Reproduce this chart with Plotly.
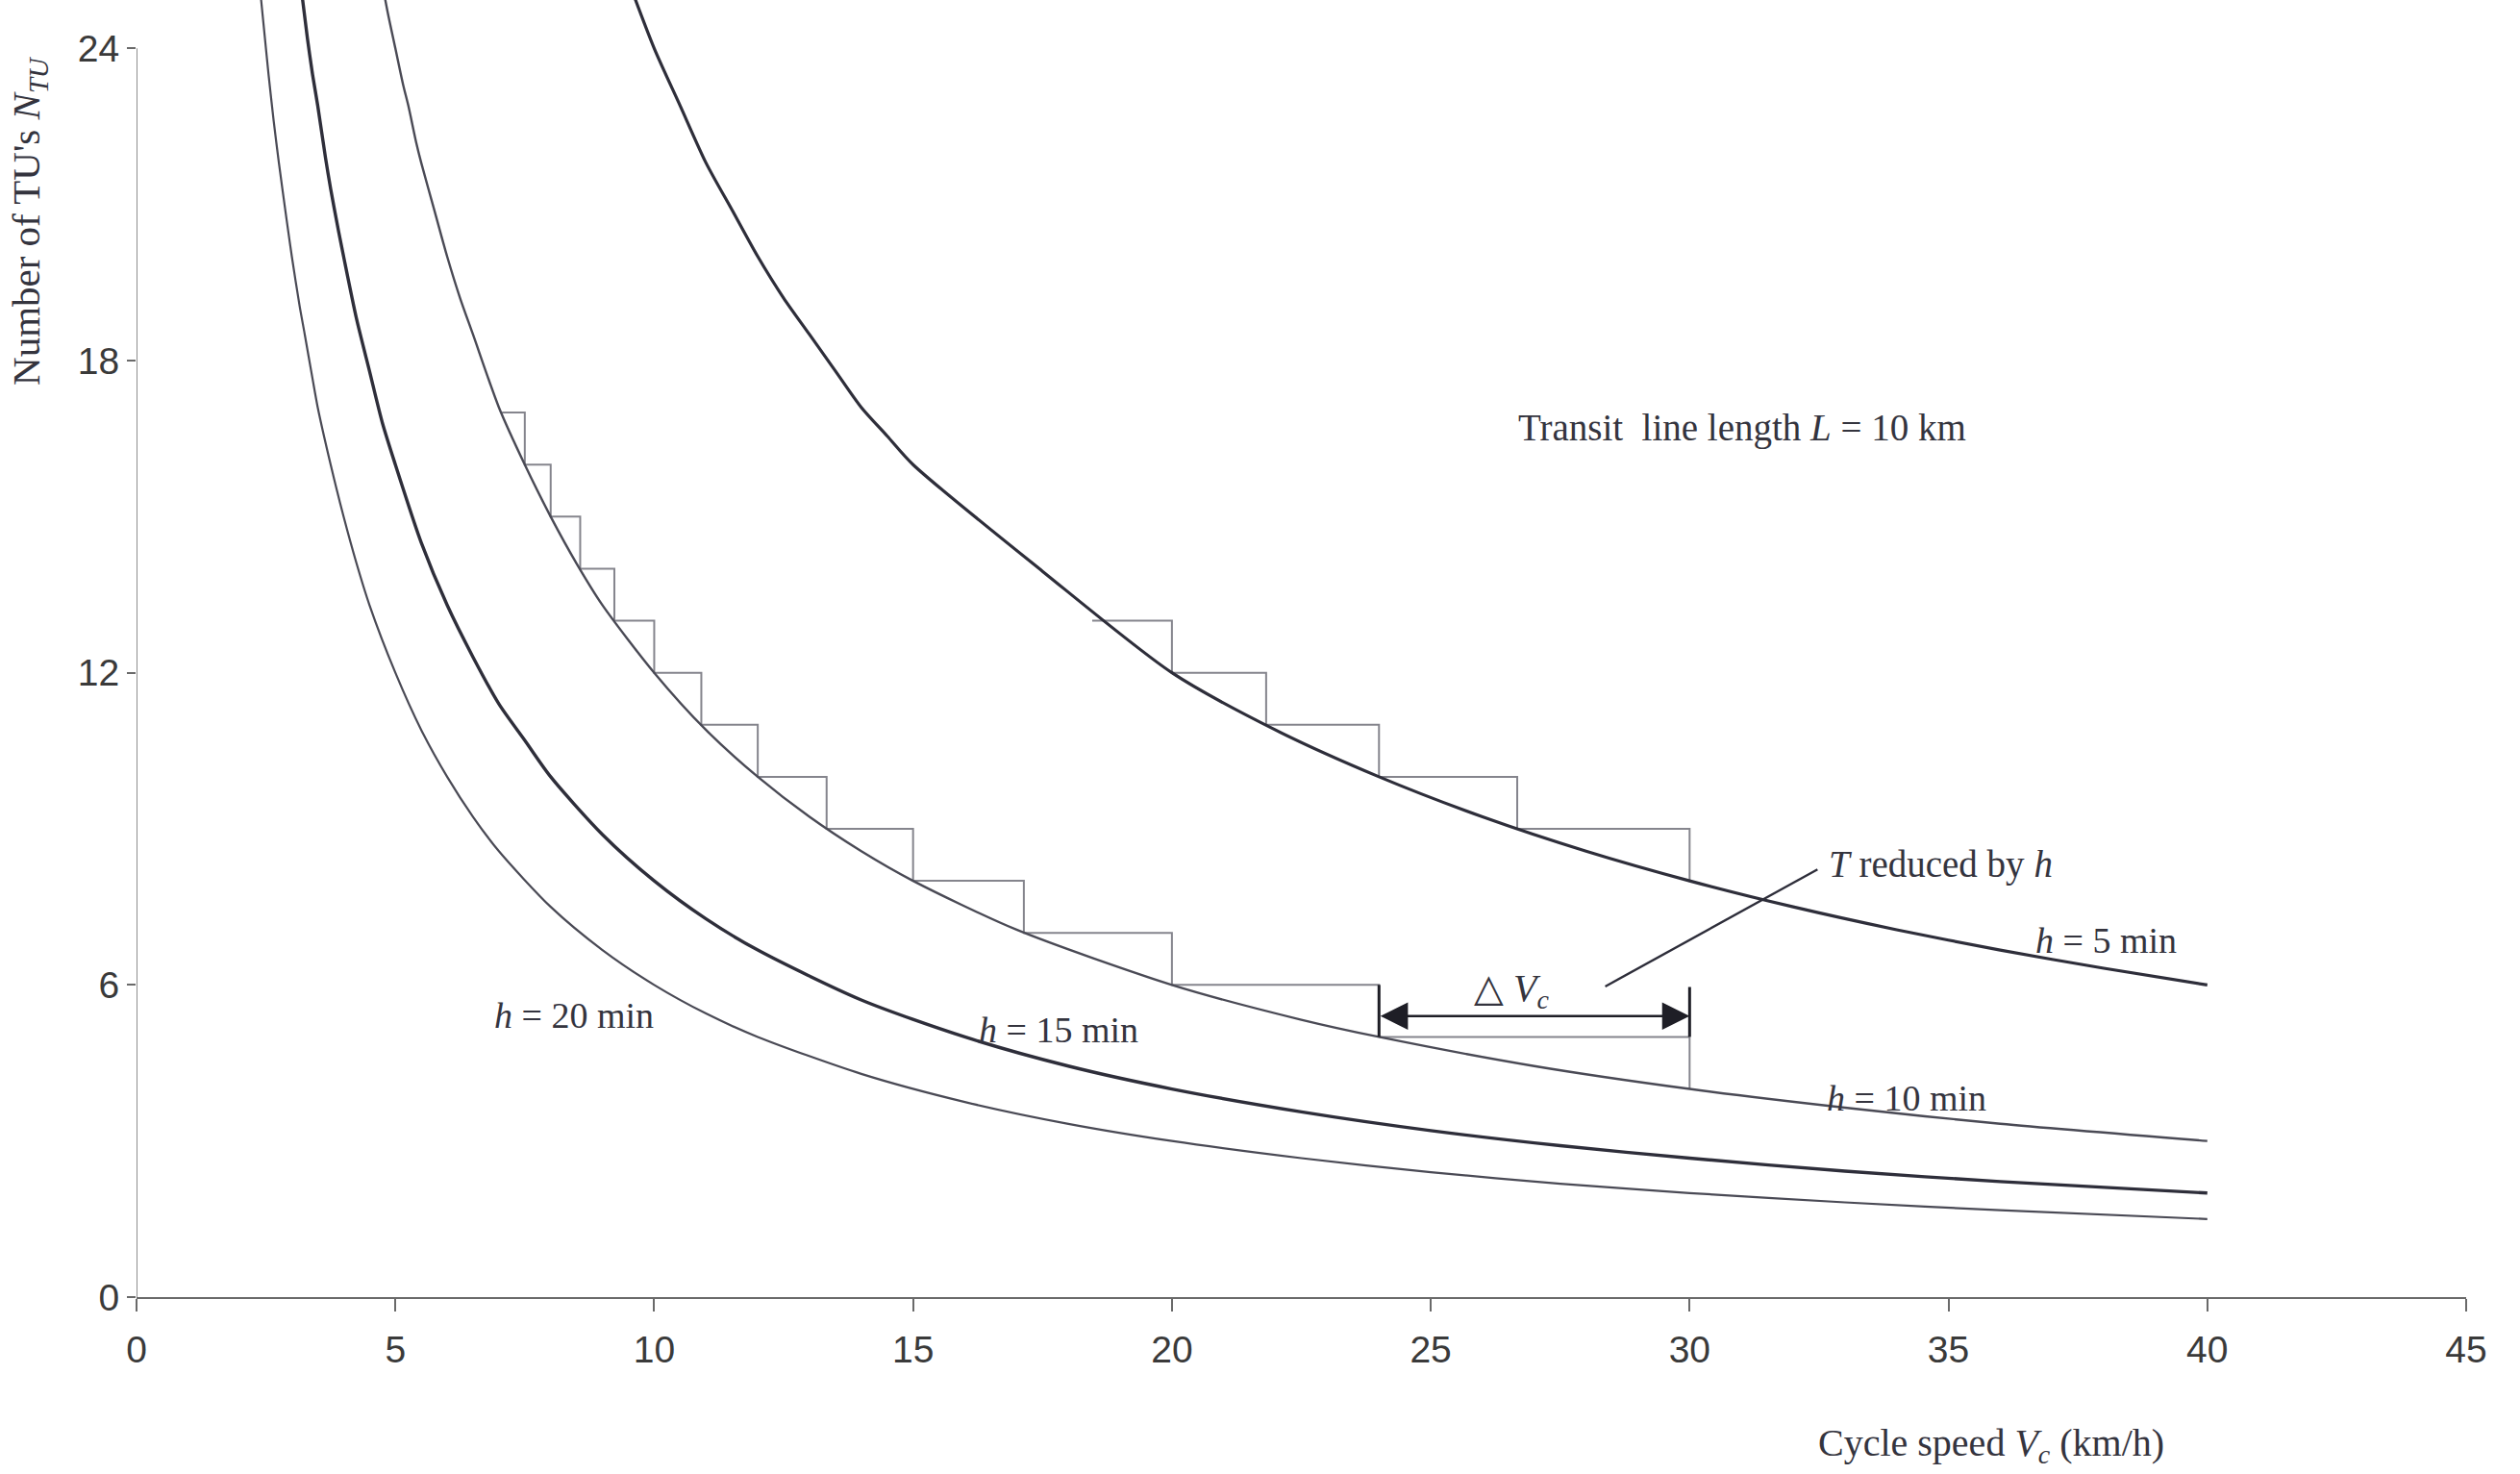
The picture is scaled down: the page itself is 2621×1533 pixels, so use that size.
import plotly.graph_objects as go

# ---- data ----
h20_v = [2.35, 2.45, 2.55, 2.65, 2.75, 2.9, 3.0, 3.15, 3.25, 3.4, 3.5, 3.75, 4.0, 4.25, 4.5, 5.0, 5.5, 6.0,
         6.5, 7.0, 8.0, 9.0, 10.0, 11.0, 12.0, 14.0, 16.0, 18.0, 20.0, 22.5, 25.0, 27.5, 30.0, 33.0, 36.0, 40.0]
h20_n = [25.5, 24.5, 23.5, 22.6, 21.8, 20.7, 20.0, 19.05, 18.5, 17.65, 17.1, 16.0, 15.0, 14.1, 13.3, 12.0,
         10.9, 10.0, 9.23, 8.57, 7.5, 6.67, 6.0, 5.45, 5.0, 4.29, 3.75, 3.33, 3.0, 2.67, 2.4, 2.18, 2.0,
         1.82, 1.67, 1.5]

h15_v = [3.15, 3.3, 3.4, 3.5, 3.65, 3.75, 3.9, 4.0, 4.25, 4.5, 4.75, 5.0, 5.5, 6.0, 6.5, 7.0, 7.5, 8.0,
         9.0, 10.0, 11.0, 12.0, 14.0, 16.0, 18.0, 20.0, 22.5, 25.0, 27.5, 30.0, 33.0, 36.0, 40.0]
h15_n = [25.4, 24.2, 23.5, 22.9, 21.9, 21.3, 20.5, 20.0, 18.8, 17.8, 16.8, 16.0, 14.5, 13.3, 12.3, 11.4,
         10.7, 10.0, 8.89, 8.0, 7.27, 6.67, 5.71, 5.0, 4.44, 4.0, 3.56, 3.2, 2.91, 2.67, 2.42, 2.22, 2.0]

h10_v = [4.7, 4.85, 5.0, 5.15, 5.25, 5.4, 5.5, 5.75, 6.0, 6.25, 6.5, 7.0, 7.5, 8.0, 8.5, 9.0, 10.0, 11.0,
         12.0, 13.0, 14.0, 15.0, 17.0, 20.0, 22.5, 24.0, 27.0, 30.0, 33.0, 36.0, 40.0]
h10_n = [25.5, 24.7, 24.0, 23.3, 22.9, 22.2, 21.8, 20.9, 20.0, 19.2, 18.5, 17.1, 16.0, 15.0, 14.1, 13.3,
         12.0, 10.9, 10.0, 9.23, 8.57, 8.0, 7.06, 6.0, 5.33, 5.0, 4.44, 4.0, 3.64, 3.33, 3.0]

h5_v = [9.5, 10.0, 10.5, 11.0, 11.5, 12.0, 12.5, 13.0, 13.5, 14.0, 14.5, 15.0, 17.5, 20.0,
        22.0, 24.0, 26.0, 28.0, 30.0, 32.0, 34.0, 36.0, 38.0, 40.0]
h5_n = [25.3, 24.0, 22.9, 21.8, 20.9, 20.0, 19.2, 18.5, 17.8, 17.1, 16.55, 16.0, 13.95, 12.0,
        10.9, 10.0, 9.23, 8.57, 8.0, 7.5, 7.06, 6.67, 6.32, 6.0]

# staircases (integer numbers of TUs and the speeds where each curve reaches them)
h10_step_levels = [17, 16, 15, 14, 13, 12, 11, 10, 9, 8, 7, 6]
h10_step_speeds = [7.06, 7.5, 8.0, 8.57, 9.23, 10.0, 10.91, 12.0, 13.33, 15.0, 17.14, 20.0, 24.0]
h5_step_levels = [13, 12, 11, 10, 9]
h5_step_speeds = [18.46, 20.0, 21.82, 24.0, 26.67, 30.0]

# delta Vc construction
dv_speeds = [24.0, 30.0]
dv_levels = [6.0, 5.0, 4.0]
dv_arrow_n = 5.4
dv_top_right = 5.96

# leader line for "T reduced by h"
leader_v = [28.37, 32.47]
leader_n = [5.97, 8.22]

x_ticks = [0, 5, 10, 15, 20, 25, 30, 35, 40, 45]
y_ticks = [0, 6, 12, 18, 24]

X_MAX = 45
Y_MAX = 24.93

# ---- styling ----
DARK = "#2e2e3a"
MID = "#4a4a55"
STEP = "#85858d"
AX = "#6a6a6a"
TXT = "#34343e"
SERIF = "Liberation Serif, Times New Roman, serif"
SANS = "Liberation Sans, Arial, sans-serif"


def stair(speeds, levels):
    xs, ys = [], []
    for i, lvl in enumerate(levels):
        xs += [speeds[i], speeds[i + 1], speeds[i + 1]]
        ys += [lvl, lvl, lvl - 1]
    return xs, ys


fig = go.Figure()


def line(x, y, color, width, shape="linear", smoothing=0.75):
    fig.add_trace(go.Scatter(x=x, y=y, mode="lines",
                             line=dict(color=color, width=width, shape=shape, smoothing=smoothing),
                             showlegend=False, hoverinfo="skip"))


# staircases first (thin grey)
sx, sy = stair(h10_step_speeds, h10_step_levels)
line(sx, sy, STEP, 2)
sx, sy = stair(h5_step_speeds, h5_step_levels)
line(sx, sy, STEP, 2)

# delta Vc thin parts
line([dv_speeds[0], dv_speeds[1]], [dv_levels[1], dv_levels[1]], STEP, 2)
line([dv_speeds[1], dv_speeds[1]], [dv_levels[1], dv_levels[2]], STEP, 2)

# curves
line(h20_v, h20_n, MID, 2.2, "spline")
line(h15_v, h15_n, DARK, 3.4, "spline")
line(h10_v, h10_n, MID, 2.4, "spline")
line(h5_v, h5_n, DARK, 3.2, "spline")

# delta Vc bold parts
line([dv_speeds[0], dv_speeds[0]], [dv_levels[0], dv_levels[1]], "#1e1e26", 3)
line([dv_speeds[1], dv_speeds[1]], [dv_top_right, dv_levels[1]], "#1e1e26", 3)

# leader line
line(leader_v, leader_n, DARK, 2.4)

# y axis line (only up to 24)
line([0, 0], [0, 24], AX, 1.5)

fig.add_annotation(x=dv_speeds[1], y=dv_arrow_n, ax=dv_speeds[0], ay=dv_arrow_n, xref="x", yref="y",
                   axref="x", ayref="y", text="", showarrow=True, arrowhead=2, arrowside="end+start",
                   arrowsize=2.2, arrowwidth=2.6, arrowcolor="#1e1e26", standoff=0, startstandoff=0)


def label(x, y, text, size=38):
    fig.add_annotation(x=x, y=y, xref="x", yref="y", text=text, showarrow=False, xanchor="center",
                       yanchor="middle", font=dict(family=SERIF, size=size, color=TXT))


label(31.02, 16.7, "Transit&nbsp;&nbsp;line length <i>L</i> = 10 km", size=39)
label(34.85, 8.31, "<i>T</i> reduced by <i>h</i>", size=39)
label(38.05, 6.85, "<i>h</i> = 5 min")
label(34.19, 3.82, "<i>h</i> = 10 min")
label(17.81, 5.13, "<i>h</i> = 15 min")
label(8.45, 5.42, "<i>h</i> = 20 min")
label(26.56, 5.9, "△ <i>V</i><sub><i>c</i></sub>", size=40)

# axis titles (paper coordinates)
fig.add_annotation(x=-2.08 / X_MAX, y=20.68 / Y_MAX, xref="paper", yref="paper",
                   text="Number of TU's <i>N</i><sub><i>TU</i></sub>", xanchor="center", yanchor="middle",
                   showarrow=False, textangle=-90, font=dict(family=SERIF, size=41, color=TXT))
fig.add_annotation(x=35.82 / X_MAX, y=-2.85 / Y_MAX, xref="paper", yref="paper",
                   text="Cycle speed <i>V</i><sub><i>c</i></sub> (km/h)", xanchor="center", yanchor="middle",
                   showarrow=False, font=dict(family=SERIF, size=40, color=TXT))

fig.update_xaxes(range=[0, X_MAX], tickvals=x_ticks, ticktext=[str(v) for v in x_ticks],
                 showgrid=False, zeroline=False, showline=True, linecolor=AX, linewidth=1.5,
                 ticks="outside", ticklen=13, tickcolor=AX, tickwidth=1.5, ticklabelstandoff=6,
                 tickfont=dict(family=SANS, size=39, color="#3a3a3a"))
fig.update_yaxes(range=[0, Y_MAX], tickvals=y_ticks, ticktext=[str(v) for v in y_ticks],
                 showgrid=False, zeroline=False, showline=False,
                 ticks="outside", ticklen=9, tickcolor=AX, tickwidth=1.5, ticklabelstandoff=0,
                 tickfont=dict(family=SANS, size=39, color="#3a3a3a"))

fig.update_layout(width=2621, height=1533, margin=dict(l=142, r=56, t=0, b=184),
                  plot_bgcolor="white", paper_bgcolor="white")

fig.write_html("out.html")
